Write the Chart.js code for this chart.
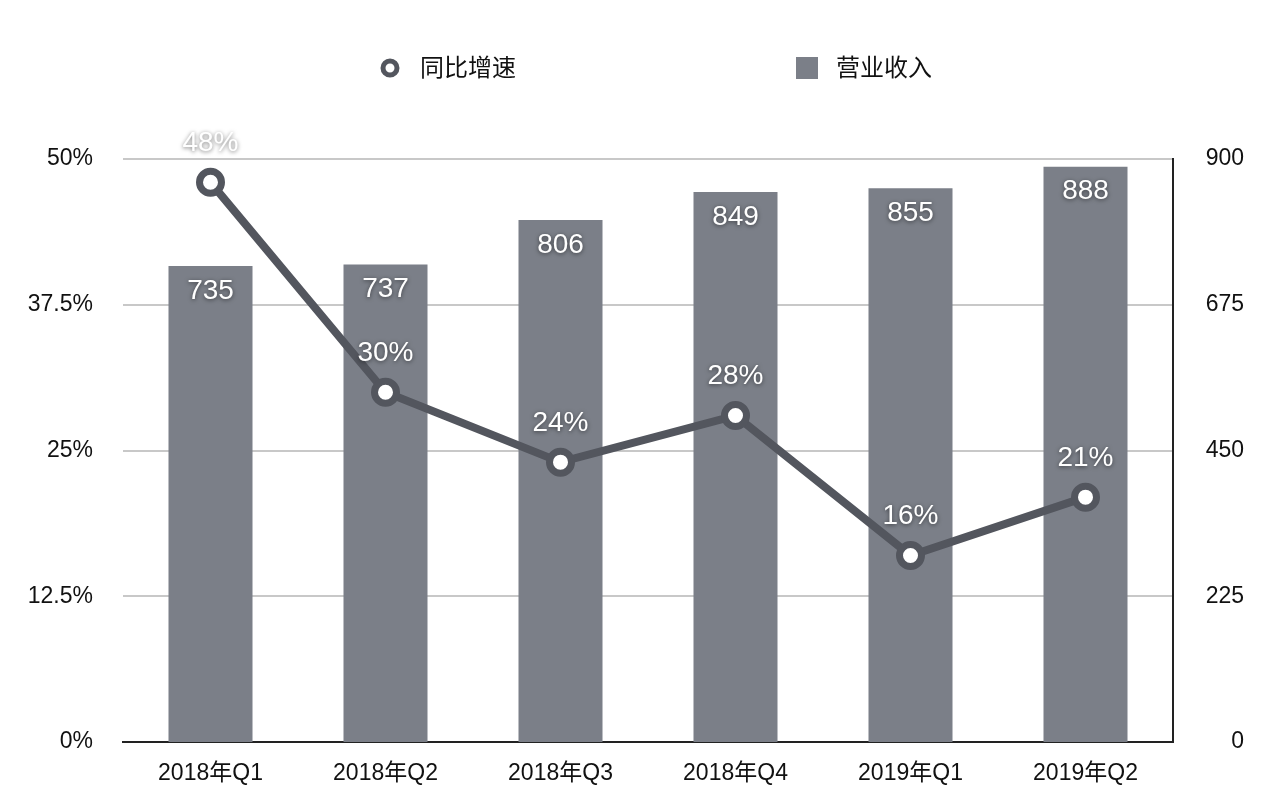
<!DOCTYPE html>
<html>
<head>
<meta charset="utf-8">
<script src="https://cdn.jsdelivr.net/npm/chart.js@4/dist/chart.umd.min.js"></script>
<style>
html,body{margin:0;padding:0;background:#fff;overflow:hidden;}
canvas{display:block;}
</style>
</head>
<body>
<canvas id="c" width="1278" height="810"></canvas>
<script>
const categories = ['2018年Q1','2018年Q2','2018年Q3','2018年Q4','2019年Q1','2019年Q2'];
const revenue = [735, 737, 806, 849, 855, 888];
const growth = [48, 30, 24, 28, 16, 21];
const leftTicks = [0, 12.5, 25, 37.5, 50];
const rightTicks = [0, 225, 450, 675, 900];
const seriesNames = ['同比增速', '营业收入'];

const FONT = '"Liberation Sans", "Noto Sans CJK SC", sans-serif';
const BAR = '#7b7f88';
const LINE = '#53565e';

const labelPlugin = {
  id: 'labels',
  afterDatasetsDraw(chart) {
    const ctx = chart.ctx;
    ctx.save();
    ctx.font = '28px ' + FONT;
    ctx.textAlign = 'center';
    ctx.textBaseline = 'middle';
    ctx.fillStyle = '#fff';
    ctx.shadowColor = 'rgba(0,0,0,0.55)';
    ctx.shadowBlur = 4;
    ctx.shadowOffsetX = 0;
    ctx.shadowOffsetY = 1;
    const barMeta = chart.getDatasetMeta(1);
    barMeta.data.forEach((el, i) => {
      ctx.fillText(String(revenue[i]), el.x, el.y + 25);
    });
    const lineMeta = chart.getDatasetMeta(0);
    lineMeta.data.forEach((el, i) => {
      ctx.fillText(growth[i] + '%', el.x, el.y - 39);
    });
    ctx.restore();
  }
};

const legendPlugin = {
  id: 'customLegend',
  afterDraw(chart) {
    const ctx = chart.ctx;
    ctx.save();
    const y = 68;
    ctx.beginPath();
    ctx.arc(390, y, 7, 0, Math.PI * 2);
    ctx.fillStyle = '#fff';
    ctx.fill();
    ctx.lineWidth = 5;
    ctx.strokeStyle = LINE;
    ctx.stroke();
    ctx.font = '24px ' + FONT;
    ctx.fillStyle = '#111';
    ctx.textBaseline = 'middle';
    ctx.textAlign = 'left';
    ctx.fillText(seriesNames[0], 420, y + 1);
    ctx.fillStyle = BAR;
    ctx.fillRect(796, y - 11, 22, 22);
    ctx.fillStyle = '#111';
    ctx.fillText(seriesNames[1], 836, y + 1);
    ctx.restore();
  }
};

new Chart(document.getElementById('c'), {
  data: {
    labels: categories,
    datasets: [
      {
        type: 'line',
        label: seriesNames[0],
        data: growth,
        yAxisID: 'yL',
        borderColor: LINE,
        borderWidth: 8,
        pointRadius: 11,
        pointBorderWidth: 7,
        pointBackgroundColor: '#fff',
        pointBorderColor: LINE,
        tension: 0,
        order: 0
      },
      {
        type: 'bar',
        label: seriesNames[1],
        data: revenue,
        yAxisID: 'yR',
        backgroundColor: BAR,
        categoryPercentage: 0.48,
        barPercentage: 1,
        order: 1
      }
    ]
  },
  options: {
    responsive: false,
    animation: false,
    devicePixelRatio: 1,
    layout: { padding: { top: 159, left: 0, right: 34, bottom: 0 } },
    plugins: { legend: { display: false }, tooltip: { enabled: false } },
    scales: {
      x: {
        offset: true,
        grid: { display: false, drawTicks: false },
        border: { display: true, color: '#222', width: 2 },
        ticks: { color: '#111', font: { size: 23, family: FONT }, padding: 18, maxRotation: 0 },
        afterFit(s) { s.height = 68; }
      },
      yL: {
        position: 'left',
        min: 0, max: 50,
        afterBuildTicks(s) { s.ticks = leftTicks.map(v => ({ value: v })); },
        grid: { color: '#c8c8c8', lineWidth: 2, drawTicks: false },
        border: { display: false },
        ticks: {
          color: '#111', font: { size: 23, family: FONT }, padding: 30,
          callback: v => v + '%'
        },
        afterFit(s) { s.width = 123; }
      },
      yR: {
        position: 'right',
        min: 0, max: 900,
        afterBuildTicks(s) { s.ticks = rightTicks.map(v => ({ value: v })); },
        grid: { display: false, drawTicks: false },
        border: { display: true, color: '#222', width: 2 },
        ticks: { color: '#111', font: { size: 23, family: FONT }, crossAlign: 'far', padding: 10 },
        afterFit(s) { s.width = 71; }
      }
    }
  },
  plugins: [labelPlugin, legendPlugin]
});
</script>
</body>
</html>
